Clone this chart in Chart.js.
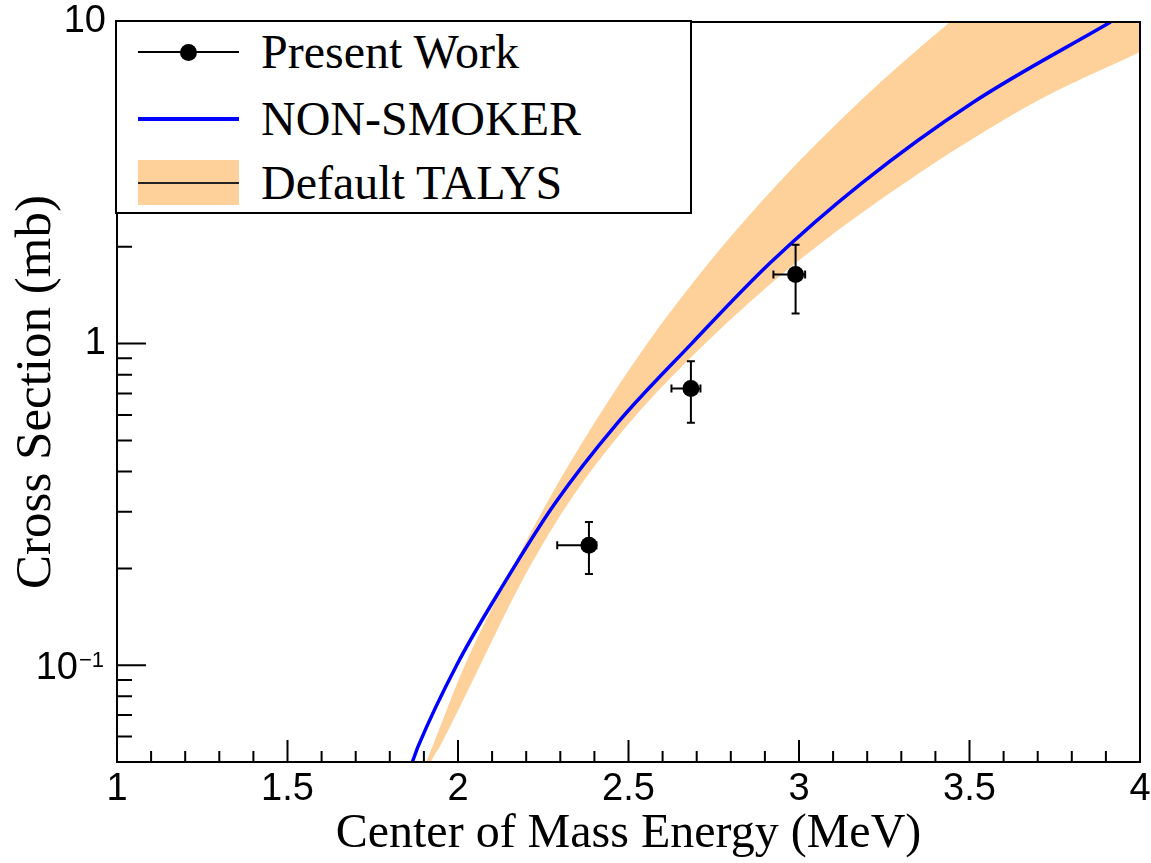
<!DOCTYPE html>
<html>
<head>
<meta charset="utf-8">
<script src="https://cdn.jsdelivr.net/npm/chart.js@4.4.0/dist/chart.umd.min.js"></script>
<style>
  body { margin: 0; background: #fff; }
  #wrap { position: relative; width: 1151px; height: 863px; }
  #legend {
    position: absolute; left: 115px; top: 20px; width: 573px; height: 190px;
    border: 2px solid #000; background: #fff;
    font-family: "Liberation Serif", "Times New Roman", serif; font-size: 48px; color: #000;
  }
  .lab { position: absolute; left: 144px; height: 60px; line-height: 60px; white-space: nowrap; }
  .smp { position: absolute; }
</style>
</head>
<body>
<div id="wrap">
  <canvas id="c" width="1151" height="863"></canvas>
  <div id="legend">
    <div class="smp" style="left:21px; top:29px; width:101px; height:2px; background:#000"></div>
    <div class="smp" style="left:63px; top:22px; width:17px; height:17px; border-radius:50%; background:#000"></div>
    <div class="lab" style="top:0px">Present Work</div>

    <div class="smp" style="left:21px; top:95px; width:101px; height:4px; background:#0000ff"></div>
    <div class="lab" style="top:67px">NON-SMOKER</div>

    <div class="smp" style="left:21px; top:138px; width:101px; height:45px; background:#fed09a"></div>
    <div class="smp" style="left:21px; top:160px; width:101px; height:2px; background:#222"></div>
    <div class="lab" style="top:131px">Default TALYS</div>
  </div>
</div>
<script>
// Present work (measured points with asymmetric errors)
const expE   = [2.384, 2.683, 2.990];
const expXS  = [0.236, 0.725, 1.64];
const expElo = [2.291, 2.626, 2.925];
const expEhi = [2.406, 2.711, 3.018];
const expYlo = [0.192, 0.567, 1.24];
const expYhi = [0.279, 0.881, 2.03];

// NON-SMOKER curve
const nsE  = [1.85, 1.867, 1.884, 1.996, 2.133, 2.282, 2.465, 2.685, 2.915, 3.185, 3.51, 3.914];
const nsXS = [0.045, 0.0503, 0.0562, 0.1, 0.178, 0.316, 0.562, 1, 1.78, 3.16, 5.62, 10];

// Default TALYS band edges
const talysUpE  = [1.89, 1.908, 1.926, 2.02, 2.135, 2.258, 2.398, 2.555, 2.735, 2.94, 3.175, 3.443, 3.75, 4.05];
const talysUpXS = [0.044, 0.0503, 0.0562, 0.1, 0.178, 0.316, 0.562, 1, 1.78, 3.16, 5.62, 10, 17.8, 31];
const talysLoE  = [1.905, 1.922, 1.948, 2.065, 2.182, 2.321, 2.50, 2.725, 2.99, 3.31, 3.69, 4.0];
const talysLoXS = [0.044, 0.0503, 0.0562, 0.1, 0.178, 0.316, 0.562, 1, 1.78, 3.16, 5.62, 8.07];

// Axis ticks
const xTickValues = [1, 1.5, 2, 2.5, 3, 3.5, 4];
const xTickLabels = ["1", "1.5", "2", "2.5", "3", "3.5", "4"];
const yTickValues = [0.1, 1, 10];
const yTickLabels = ["10\u22121", "1", "10"]; // first one drawn as 10 with superscript

const pts = (xs, ys) => xs.map((x, i) => ({ x, y: ys[i] }));

const BAND = "#fed09a";
const serif = '"Liberation Serif", "Times New Roman", serif';
const sans = '"Liberation Sans", Arial, sans-serif';

// error bars for the measured points
const errorBars = {
  id: "errorBars",
  afterDatasetsDraw(chart) {
    const { ctx, scales: { x, y } } = chart;
    ctx.save();
    ctx.strokeStyle = "#000";
    ctx.lineWidth = 2;
    ctx.beginPath();
    expE.forEach((e, i) => {
      const px = x.getPixelForValue(e), py = y.getPixelForValue(expXS[i]);
      const x0 = x.getPixelForValue(expElo[i]), x1 = x.getPixelForValue(expEhi[i]);
      const y0 = y.getPixelForValue(expYlo[i]), y1 = y.getPixelForValue(expYhi[i]);
      ctx.moveTo(x0, py); ctx.lineTo(x1, py);
      ctx.moveTo(x0, py - 4); ctx.lineTo(x0, py + 4);
      ctx.moveTo(x1, py - 4); ctx.lineTo(x1, py + 4);
      ctx.moveTo(px, y0); ctx.lineTo(px, y1);
      ctx.moveTo(px - 4, y0); ctx.lineTo(px + 4, y0);
      ctx.moveTo(px - 4, y1); ctx.lineTo(px + 4, y1);
    });
    ctx.stroke();
    ctx.restore();
  }
};

// ROOT-like frame with inward ticks, plus the 10^-1 label with a real superscript
const frameTicks = {
  id: "frameTicks",
  afterDraw(chart) {
    const { ctx, chartArea: a, scales: { x, y } } = chart;
    ctx.save();
    ctx.strokeStyle = "#000";
    ctx.lineWidth = 2;
    ctx.strokeRect(a.left, a.top, a.right - a.left, a.bottom - a.top);
    ctx.beginPath();
    for (let i = 10; i <= 40; i++) {
      const px = x.getPixelForValue(i / 10);
      const len = i % 5 === 0 ? 22 : 11;
      ctx.moveTo(px, a.bottom); ctx.lineTo(px, a.bottom - len);
    }
    for (let e = -2; e <= 1; e++) {
      for (let m = 1; m <= 9; m++) {
        const v = m * Math.pow(10, e);
        if (v <= y.min * 1.001 || v > y.max * 1.001) continue;
        const py = y.getPixelForValue(v);
        const len = m === 1 ? 29 : 15;
        ctx.moveTo(a.left, py); ctx.lineTo(a.left + len, py);
      }
    }
    ctx.stroke();

    const py = y.getPixelForValue(yTickValues[0]);
    const [base, sup] = yTickLabels[0].split("\u2212").length > 1
      ? ["10", "\u22121"] : [yTickLabels[0], ""];
    ctx.fillStyle = "#000";
    ctx.textBaseline = "alphabetic";
    ctx.textAlign = "right";
    ctx.font = "38px " + sans;
    ctx.fillText(base, 78, py + 14);
    ctx.textAlign = "left";
    ctx.font = "22px " + sans;
    ctx.fillText(sup, 79, py + 2);
    ctx.restore();
  }
};

new Chart(document.getElementById("c"), {
  type: "line",
  data: {
    datasets: [
      {
        label: "Present Work",
        data: pts(expE, expXS),
        showLine: false,
        pointRadius: 8.5,
        pointBackgroundColor: "#000",
        pointBorderWidth: 0,
        borderColor: "#000"
      },
      {
        label: "NON-SMOKER",
        data: pts(nsE, nsXS),
        borderColor: "#0000ff",
        borderWidth: 3.5,
        pointRadius: 0,
        cubicInterpolationMode: "monotone",
        fill: false
      },
      {
        label: "Default TALYS",
        data: pts(talysUpE, talysUpXS),
        borderWidth: 0,
        borderColor: BAND,
        backgroundColor: BAND,
        pointRadius: 0,
        cubicInterpolationMode: "monotone",
        fill: "+1"
      },
      {
        label: "TALYS low",
        data: pts(talysLoE, talysLoXS),
        borderWidth: 0,
        borderColor: BAND,
        pointRadius: 0,
        cubicInterpolationMode: "monotone",
        fill: false
      }
    ]
  },
  options: {
    responsive: false,
    animation: false,
    layout: { padding: { top: 22, right: 11, left: 0, bottom: 0 } },
    plugins: { legend: { display: false }, tooltip: { enabled: false } },
    scales: {
      x: {
        type: "linear",
        min: 1, max: 4,
        grid: { display: false, drawTicks: false },
        border: { display: false },
        afterBuildTicks: (s) => { s.ticks = xTickValues.map((v) => ({ value: v })); },
        afterFit: (s) => { s.height = 101; s.paddingLeft = 0; s.paddingRight = 0; },
        ticks: {
          autoSkip: false, maxRotation: 0, padding: 5,
          color: "#000", font: { family: sans, size: 38 },
          callback: (v, i) => xTickLabels[i]
        },
        title: {
          display: true, text: "Center of Mass Energy (MeV)",
          color: "#000", font: { family: serif, size: 48 }, padding: { top: 0, bottom: 0 }
        }
      },
      y: {
        type: "logarithmic",
        min: 0.05, max: 10,
        grid: { display: false, drawTicks: false },
        border: { display: false },
        afterBuildTicks: (s) => { s.ticks = yTickValues.map((v) => ({ value: v })); },
        afterFit: (s) => { s.width = 117; s.paddingTop = 0; s.paddingBottom = 0; },
        ticks: {
          autoSkip: false, padding: 11,
          color: "#000", font: { family: sans, size: 38 },
          callback: (v, i) => (i === 0 ? "" : yTickLabels[i])
        },
        title: {
          display: true, text: "Cross Section (mb)",
          color: "#000", font: { family: serif, size: 51 }, padding: { top: 6, bottom: 0 }
        }
      }
    }
  },
  plugins: [errorBars, frameTicks]
});
</script>
</body>
</html>
